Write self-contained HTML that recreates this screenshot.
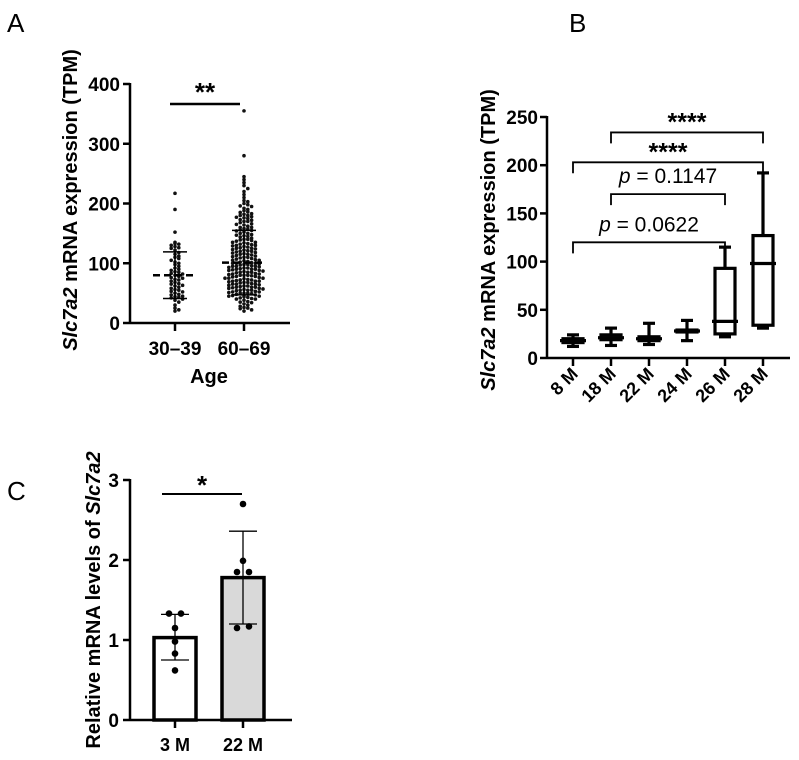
<!DOCTYPE html>
<html><head><meta charset="utf-8"><style>
body{margin:0;background:#fff;}
svg{display:block;font-family:"Liberation Sans",Arial,sans-serif;}
.tk{font-size:19px;font-weight:bold;}
.tkb{font-size:18px;font-weight:bold;}
.ti{font-size:20px;font-weight:bold;}
</style></head><body>
<svg id="fig" width="799" height="760" viewBox="0 0 799 760">
<text x="7" y="32" font-size="26">A</text>
<text x="569" y="32" font-size="26">B</text>
<text x="7" y="500" font-size="26">C</text>
<g id="pa"></g>
<g id="pb"></g>
<g id="pc"></g>
</svg>
<script>
// ---------- Panel A data ----------
const aCategories=["30–39","60–69"];
const aTicks=[0,100,200,300,400];
const aGroup1=[217,190,152,135,133,132,130,128,126,125,122,118,115,112,110,108,105,102,100,98,95,92,90,88,86,85,83,82,80,78,76,75,73,72,70,68,66,65,63,62,60,58,56,55,53,52,50,48,47,45,44,43,42,40,38,35,30,25,22,20];
const aGroup2=[355,280,245,240,235,230,225,220,215,210,205,203,200,198,196,195,192,190,188,186,185,183,182,180,180,178,177,176,175,173,172,170,170,168,166,165,164,162,160,160,158,157,156,155,154,152,150,150,148,147,146,145,144,142,140,140,139,138,137,135,135,134,133,132,131,130,130,129,128,127,126,125,125,124,123,122,121,120,120,119,118,117,116,115,115,114,113,112,111,110,110,109,108,107,106,105,105,104,103,102,101,100,100,100,99,98,98,97,96,95,95,95,94,93,92,92,91,90,90,90,89,88,88,87,86,85,85,85,84,83,82,82,81,80,80,80,79,78,78,77,76,75,75,75,74,73,72,72,71,70,70,70,69,68,68,67,66,65,65,65,64,63,62,62,61,60,60,60,59,58,58,57,56,55,55,55,54,53,52,52,51,50,50,50,49,48,47,46,45,45,44,43,42,41,40,40,38,36,35,34,32,30,28,26,25,24,22,20];
const aMeans=[80,101];
const aSDs=[39,54];
// ---------- Panel B data ----------
const bCategories=["8 M","18 M","22 M","24 M","26 M","28 M"];
const bTicks=[0,50,100,150,200,250];
const bMin=[12,13,14,18,22,31];
const bQ1=[16,19,18,27,25,34];
const bMed=[18,21,20,28,38,98];
const bQ3=[20,24,22,29,93,127];
const bMax=[24,31,36,39,115,192];
const bBrackets=[[0,4,120,"p = 0.0622"],[1,4,170,"p = 0.1147"],[0,5,203,"****"],[1,5,234,"****"]];
// ---------- Panel C data ----------
const cCategories=["3 M","22 M"];
const cTicks=[0,1,2,3];
const cMeans=[1.03,1.78];
const cLow=[0.75,1.2];
const cHigh=[1.32,2.36];
const cPts3M=[1.33,1.33,1.15,0.98,0.83,0.62];
const cPts22M=[2.7,1.99,1.85,1.85,1.15,1.17];

const NS="http://www.w3.org/2000/svg";
function mk(p,tag,at,txt){const e=document.createElementNS(NS,tag);for(const k in at)e.setAttribute(k,at[k]);if(txt!==undefined)e.textContent=txt;p.appendChild(e);return e;}

// ===== Panel A =====
(function(){
const g=document.getElementById('pa');
const x0=130,x1=290,y0=323,yTop=84;
const ys=v=>y0-(v/400)*(y0-yTop);
const xs=[175,244];
let e=mk(g,'line',{x1:x0,y1:yTop-1,x2:x0,y2:y0+1,stroke:'#000','stroke-width':2.5});

e=mk(g,'line',{x1:x0,y1:y0,x2:x1,y2:y0,stroke:'#000','stroke-width':2.5});

aTicks.forEach(t=>{mk(g,'line',{x1:x0-7,x2:x0,y1:ys(t),y2:ys(t),stroke:'#000','stroke-width':2.5});
 e=mk(g,'text',{x:x0-10,y:ys(t)+7,'text-anchor':'end',class:'tk'},t);
 });
aCategories.forEach((c,i)=>{mk(g,'line',{x1:xs[i],x2:xs[i],y1:y0,y2:y0+8,stroke:'#000','stroke-width':2.5});
 e=mk(g,'text',{x:xs[i],y:y0+32,'text-anchor':'middle',class:'tk'},c);
 });
e=mk(g,'text',{x:209,y:383,'text-anchor':'middle',class:'ti'},'Age');

e=mk(g,'text',{transform:'translate(77,200) rotate(-90)','text-anchor':'middle',class:'ti'});
e.innerHTML='<tspan font-style="italic">Slc7a2</tspan> mRNA expression (TPM)';

[aGroup1,aGroup2].forEach((arr,gi)=>{
 const bins={};
 arr.forEach(v=>{const b=Math.round(v/6);bins[b]=(bins[b]||0)+1;const k=bins[b]-1;
  const off=(k%2?1:-1)*Math.ceil(k/2)*3.8;
  const d=mk(g,'circle',{cx:xs[gi]+off,cy:ys(v),r:1.8,fill:'#111'});
  });
 const m=ys(aMeans[gi]),hi=ys(aMeans[gi]+aSDs[gi]),lo=ys(aMeans[gi]-aSDs[gi]);
 e=mk(g,'line',{x1:xs[gi]-22,x2:xs[gi]+22,y1:m,y2:m,stroke:'#000','stroke-width':2.5,'stroke-dasharray':'7,4'});
 
 mk(g,'line',{x1:xs[gi],x2:xs[gi],y1:hi,y2:lo,stroke:'#000','stroke-width':1.5});
 mk(g,'line',{x1:xs[gi]-12,x2:xs[gi]+12,y1:hi,y2:hi,stroke:'#000','stroke-width':1.5});
 mk(g,'line',{x1:xs[gi]-12,x2:xs[gi]+12,y1:lo,y2:lo,stroke:'#000','stroke-width':1.5});
});
e=mk(g,'line',{x1:170,x2:240,y1:104,y2:104,stroke:'#000','stroke-width':2.5});

e=mk(g,'text',{x:205,y:101,'text-anchor':'middle','font-size':26,'font-weight':'bold'},'**');

})();

// ===== Panel B =====
(function(){
const g=document.getElementById('pb');
const x0=547,x1=790,y0=358,yTop=117;
const ys=v=>y0-(v/250)*(y0-yTop);
const xc=i=>573+i*38;
let e=mk(g,'line',{x1:x0,y1:yTop-1,x2:x0,y2:y0+1,stroke:'#000','stroke-width':2.5});

e=mk(g,'line',{x1:x0,y1:y0,x2:x1,y2:y0,stroke:'#000','stroke-width':2.5});

bTicks.forEach(t=>{mk(g,'line',{x1:x0-7,x2:x0,y1:ys(t),y2:ys(t),stroke:'#000','stroke-width':2.5});
 e=mk(g,'text',{x:x0-9,y:ys(t)+7,'text-anchor':'end',class:'tk'},t);
 });
e=mk(g,'text',{transform:'translate(495,240) rotate(-90)','text-anchor':'middle',class:'ti'});
e.innerHTML='<tspan font-style="italic">Slc7a2</tspan> mRNA expression (TPM)';

bCategories.forEach((c,i)=>{const x=xc(i);
 mk(g,'line',{x1:x,x2:x,y1:y0,y2:y0+8,stroke:'#000','stroke-width':2.5});
 e=mk(g,'text',{transform:`translate(${x+6},${y0+17}) rotate(-45)`,'text-anchor':'end',class:'tkb'},c);
 
 const bw=10;
 const bx=mk(g,'g',{stroke:'#000','stroke-width':3.2,fill:'none'});
 
 mk(bx,'line',{x1:x,x2:x,y1:ys(bMax[i]),y2:ys(bQ3[i])});
 mk(bx,'line',{x1:x,x2:x,y1:ys(bQ1[i]),y2:ys(bMin[i])});
 mk(bx,'line',{x1:x-6,x2:x+6,y1:ys(bMax[i]),y2:ys(bMax[i])});
 mk(bx,'line',{x1:x-6,x2:x+6,y1:ys(bMin[i]),y2:ys(bMin[i])});
 mk(bx,'rect',{x:x-bw,y:ys(bQ3[i]),width:2*bw,height:ys(bQ1[i])-ys(bQ3[i])});
 mk(bx,'line',{x1:x-bw-3,x2:x+bw+3,y1:ys(bMed[i]),y2:ys(bMed[i])});
});
bBrackets.forEach(b=>{const xa=xc(b[0]),xb=xc(b[1]),y=ys(b[2]);
 const br=mk(g,'path',{d:`M${xa},${y+11}V${y}H${xb}V${y+11}`,stroke:'#000','stroke-width':1.8,fill:'none'});
 
 let t;
 if(b[3][0]==='p'){t=mk(g,'text',{x:(xa+xb)/2,y:y-11,'text-anchor':'middle','font-size':21});
  t.innerHTML='<tspan font-style="italic">p</tspan>'+b[3].slice(1);}
 else t=mk(g,'text',{x:(xa+xb)/2,y:y-2,'text-anchor':'middle','font-size':25,'font-weight':'bold'},b[3]);
 
});
})();

// ===== Panel C =====
(function(){
const g=document.getElementById('pc');
const x0=130,x1=292,y0=720,yTop=480;
const ys=v=>y0-(v/3)*(y0-yTop);
const xs=[175,243];
let e=mk(g,'line',{x1:x0,y1:yTop-1,x2:x0,y2:y0+1,stroke:'#000','stroke-width':2.5});

e=mk(g,'line',{x1:x0,y1:y0,x2:x1,y2:y0,stroke:'#000','stroke-width':2.5});

cTicks.forEach(t=>{mk(g,'line',{x1:x0-7,x2:x0,y1:ys(t),y2:ys(t),stroke:'#000','stroke-width':2.5});
 e=mk(g,'text',{x:x0-11,y:ys(t)+7,'text-anchor':'end',class:'tk'},t);
 });
e=mk(g,'text',{transform:'translate(100,600) rotate(-90)','text-anchor':'middle',class:'ti'});
e.innerHTML='Relative mRNA levels of <tspan font-style="italic">Slc7a2</tspan>';

const fills=['#fff','#d9d9d9'];const pts=[cPts3M,cPts22M];
cCategories.forEach((c,i)=>{const x=xs[i];
 e=mk(g,'rect',{x:x-21,y:ys(cMeans[i]),width:42,height:y0-ys(cMeans[i]),fill:fills[i],stroke:'#000','stroke-width':3.5});
 
 mk(g,'line',{x1:x,x2:x,y1:y0,y2:y0+8,stroke:'#000','stroke-width':2.5});
 e=mk(g,'text',{x:x,y:y0+31,'text-anchor':'middle',class:'tkb'},c);
 
 mk(g,'line',{x1:x,x2:x,y1:ys(cHigh[i]),y2:ys(cLow[i]),stroke:'#000','stroke-width':1.3});
 mk(g,'line',{x1:x-14,x2:x+14,y1:ys(cHigh[i]),y2:ys(cHigh[i]),stroke:'#000','stroke-width':1.3});
 mk(g,'line',{x1:x-14,x2:x+14,y1:ys(cLow[i]),y2:ys(cLow[i]),stroke:'#000','stroke-width':1.3});
 const seen={};
 pts[i].forEach(v=>{const k=v.toFixed(2);seen[k]=(seen[k]||0)+1;const n=pts[i].filter(w=>Math.abs(w-v)<0.06).length;
  const idx=pts[i].filter(w=>Math.abs(w-v)<0.06).indexOf(v)+ (seen[k]-1);
  const off=n>1?(idx-(n-1)/2)*12:0;
  const d=mk(g,'circle',{cx:x+off,cy:ys(v),r:3.3,fill:'#000'});
  });
});
e=mk(g,'line',{x1:162,x2:242,y1:494,y2:494,stroke:'#000','stroke-width':2});

e=mk(g,'text',{x:202,y:494,'text-anchor':'middle','font-size':26,'font-weight':'bold'},'*');

})();
</script>
</body></html>
